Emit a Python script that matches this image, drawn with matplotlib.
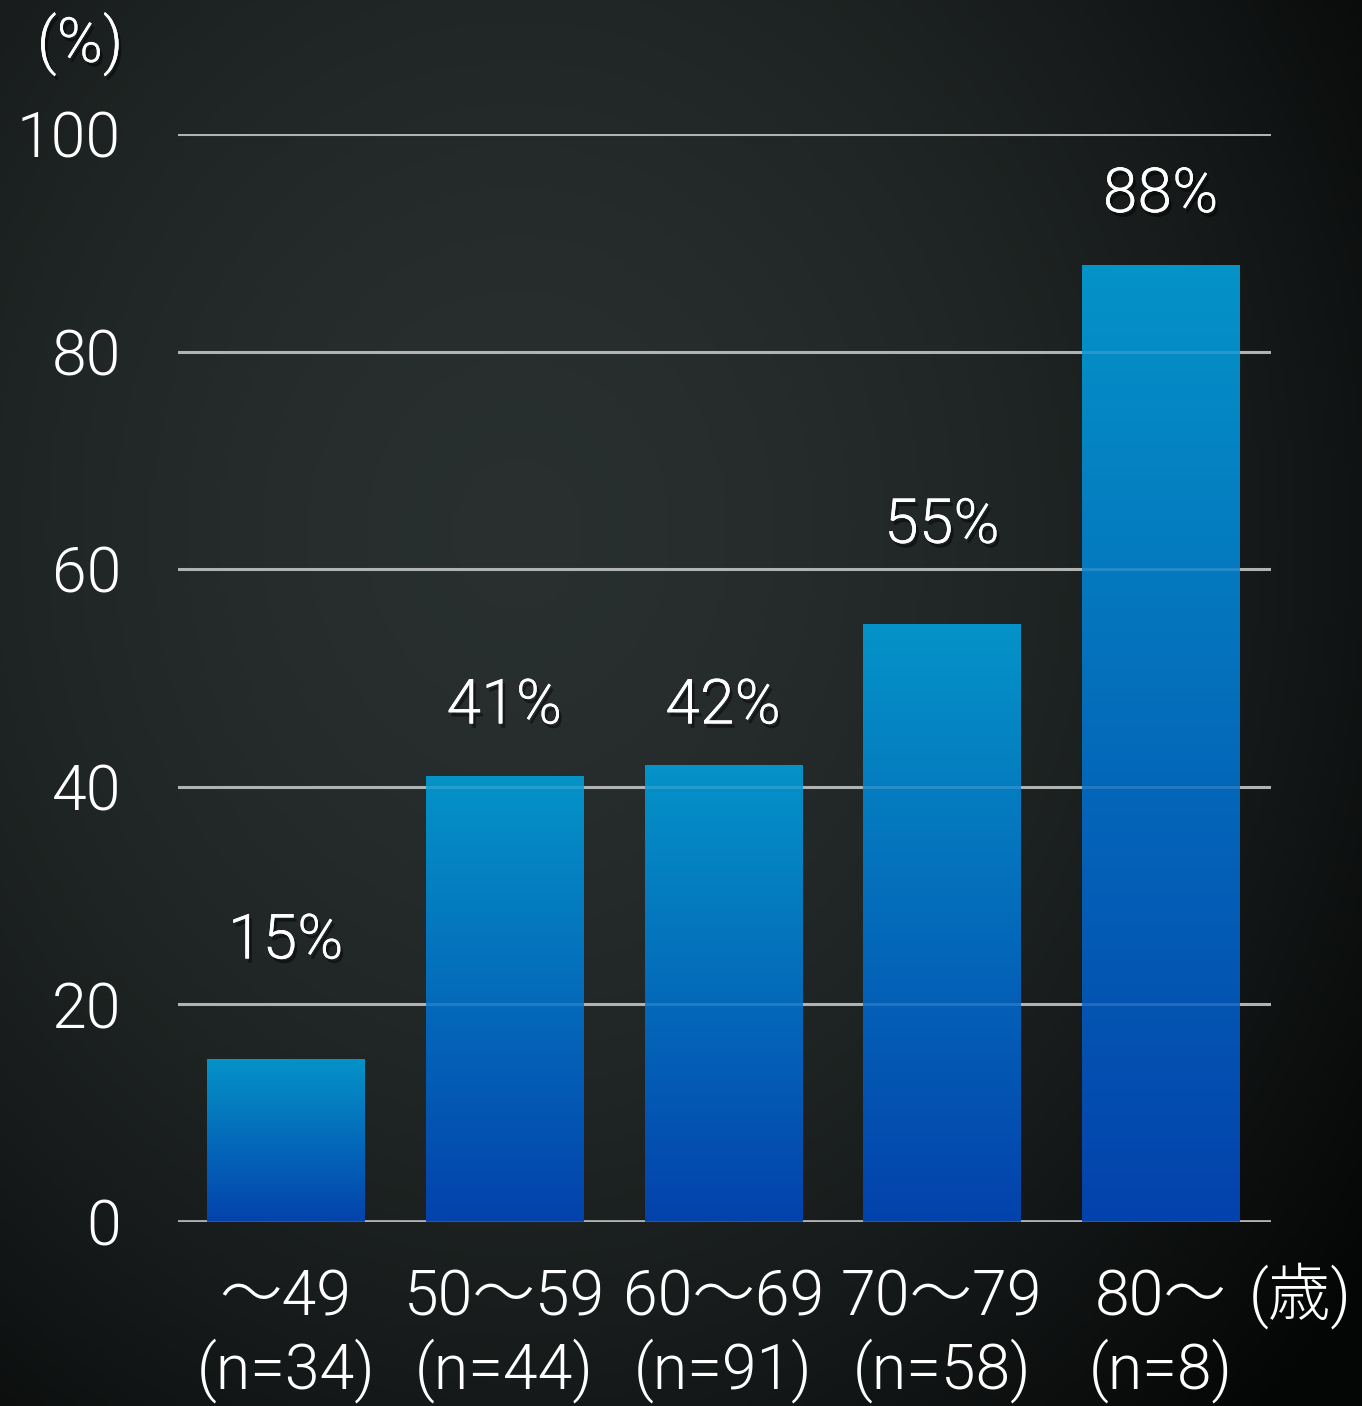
import numpy as np
import matplotlib
matplotlib.use("Agg")
import matplotlib.pyplot as plt
import matplotlib.patheffects as pe

# ---- data ----
categories = ["〜49", "50〜59", "60〜69", "70〜79", "80〜"]
sample_sizes = ["(n=34)", "(n=44)", "(n=91)", "(n=58)", "(n=8)"]
values = [15, 41, 42, 55, 88]
value_labels = ["15%", "41%", "42%", "55%", "88%"]
y_ticks = [0, 20, 40, 60, 80, 100]
y_unit = "(%)"
x_unit = "(歳)"

# ---- layout (label offsets above bars, data units) ----
label_offsets = [10.8, 6.4, 5.4, 9.0, 6.4]

FONT = ["Roboto", "Noto Sans CJK JP", "DejaVu Sans"]
plt.rcParams["font.family"] = FONT
FS = 45
FW = 300

W, H = 1362, 1406
fig = plt.figure(figsize=(W / 100, H / 100), dpi=100)

# background gradient
bg = fig.add_axes([0, 0, 1, 1], zorder=-10)
yy, xx = np.mgrid[0:1:300j, 0:1:300j]  # yy: 0 top -> 1 bottom
d = np.sqrt(((xx - 0.38) / 0.75) ** 2 + ((yy - 0.38) / 0.85) ** 2)
lum = 0.18 - 0.15 * np.clip(d, 0, 1.2) ** 1.8
lum = np.clip(lum, 0.02, 1)
img = np.dstack([lum * 0.88, lum * 1.03, lum * 1.02])
img = np.clip(img, 0, 1)
bg.imshow(img, extent=[0, 1, 0, 1], aspect="auto", origin="upper")
bg.set_axis_off()

ax = fig.add_axes([178 / W, (H - 1222) / H, (1271 - 178) / W, (1222 - 134) / H])
ax.set_facecolor("none")
x = np.arange(len(values))

# grid under bars
for t in y_ticks:
    ax.axhline(t, color="#a6a8a8", lw=2.2 if t else 2.8, zorder=1)

bars = ax.bar(x, values, width=0.718, color="none", zorder=2)

# gradient fill for each bar
grad = np.linspace(0, 1, 256).reshape(-1, 1)
top = np.array([0x05, 0x93, 0xc8]) / 255
bot = np.array([0x03, 0x42, 0xac]) / 255
gimg = top[None, None, :] * (1 - grad[..., None]) + bot[None, None, :] * grad[..., None]
for b in bars:
    x0, y0 = b.get_x(), b.get_y()
    w, h = b.get_width(), b.get_height()
    im = ax.imshow(gimg, extent=[x0, x0 + w, y0, y0 + h], aspect="auto",
                   origin="upper", zorder=2, interpolation="bilinear")
    im.set_clip_path(b)

ax.set_xlim(-0.492, len(values) - 1 + 0.505)
ax.set_ylim(0, 100)

# subtle grid over bars
for t in y_ticks:
    ax.axhline(t, color="white", alpha=0.13, lw=2.2, zorder=3)

shadow = [pe.withSimplePatchShadow(offset=(2, -3), shadow_rgbFace="black", alpha=0.45), pe.Normal()]

for xi, v, lab, off in zip(x, values, value_labels, label_offsets):
    ax.text(xi, v + off, lab, ha="center", va="center", fontsize=FS,
            color="white", fontweight=FW, zorder=5, path_effects=shadow)

# axes styling
for s in ax.spines.values():
    s.set_visible(False)
ax.set_yticks(y_ticks)
ax.set_yticklabels([str(t) for t in y_ticks], fontsize=FS, color="white", fontweight=FW)
ax.tick_params(axis="y", length=0, pad=41)
ax.set_xticks(x)
ax.set_xticklabels([f"{c}\n{n}" for c, n in zip(categories, sample_sizes)],
                   fontsize=FS, color="white", fontweight=FW, linespacing=1.2)
ax.tick_params(axis="x", length=0, pad=33)

fig.text(80 / W, 1 - 44 / H, y_unit, ha="center", va="center", fontsize=FS,
         color="white", fontweight=FW, path_effects=shadow)
fig.text(1300 / W, 1 - 1296 / H, x_unit, ha="center", va="center", fontsize=FS,
         color="white", fontweight=FW)

fig.savefig("out.png", dpi=100)
